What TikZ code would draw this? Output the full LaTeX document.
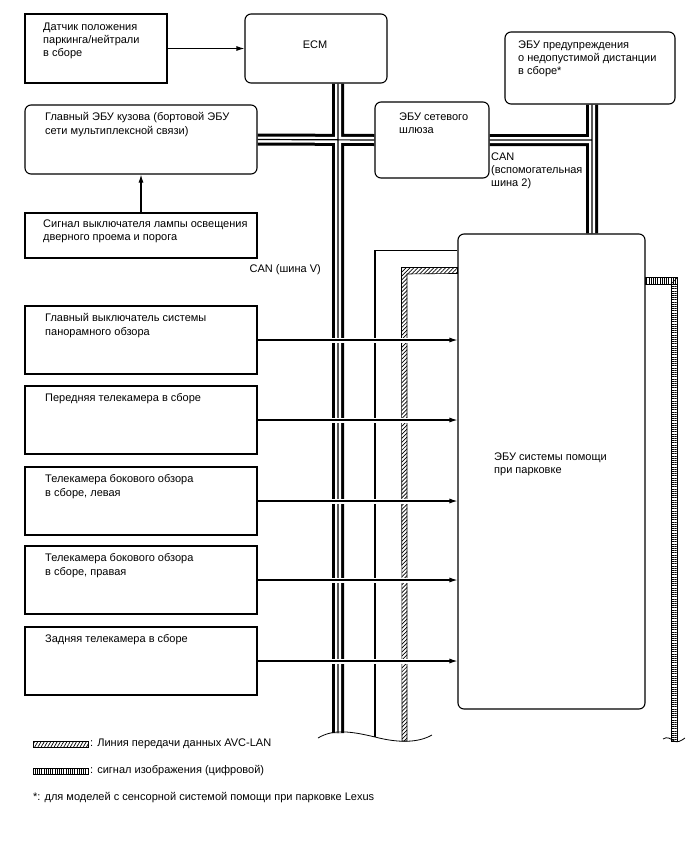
\documentclass[tikz,border=0pt]{standalone}
\usepackage{fontspec}
\setmainfont{Liberation Sans}
\usetikzlibrary{arrows.meta,patterns.meta,calc}
\pgfdeclarelayer{bg}
\pgfdeclarelayer{mid}
\pgfsetlayers{bg,mid,main}
\begin{document}
\begin{tikzpicture}[x=1pt,y=-1pt,
  sq/.style={draw,line width=1.1pt,fill=white,inner sep=0,rectangle},
  rd/.style={sq,rounded corners=6pt},
  fnt/.style={font=\fontsize{11}{13.3}\selectfont,inner sep=0},
  txt/.style={fnt,anchor=north west,align=left},
  arr/.style={line width=1.1pt,-{Latex[length=8pt,width=5pt]},
    preaction={draw=white,line width=5pt,-,shorten >=3pt}},
  bus/.style={line width=12pt,postaction={draw=white,line width=6pt},
    postaction={draw=black,line width=1.2pt}},
  thin/.style={line width=1.2pt},
  avc/.style={line width=0.6pt,pattern={Lines[angle=45,distance=2.8pt,line width=0.7pt]}},
  vidv/.style={line width=0.6pt,pattern={Lines[angle=90,distance=2.2pt,line width=0.7pt]}},
  vidh/.style={line width=0.6pt,pattern={Lines[angle=0,distance=2.2pt,line width=0.7pt]}}
]
\useasboundingbox (0,0) rectangle (688,852);

% boxes
\node[sq,minimum width=142pt,minimum height=69pt] (dat) at (96,48.5) {};
\node[rd,minimum width=142pt,minimum height=69pt] (ecm) at (316,48.5) {};
\node[rd,minimum width=232pt,minimum height=69pt] (gbody) at (141,139.5) {};
\node[sq,minimum width=232pt,minimum height=45pt] (sig) at (141,235.5) {};
\node[rd,minimum width=114pt,minimum height=76pt] (gw) at (432,140) {};
\node[rd,minimum width=170pt,minimum height=72pt] (warn) at (590,68) {};
\node[rd,minimum width=187pt,minimum height=475pt] (sys) at (551.5,471.5) {};
\node[sq,minimum width=232pt,minimum height=68pt] (c1) at (141,340) {};
\node[sq,minimum width=232pt,minimum height=68pt] (c2) at (141,420) {};
\node[sq,minimum width=232pt,minimum height=68pt] (c3) at (141,501) {};
\node[sq,minimum width=232pt,minimum height=68pt] (c4) at (141,580) {};
\node[sq,minimum width=232pt,minimum height=68pt] (c5) at (141,661) {};

% texts
\node[txt] (tdat) at (43,22.5) {Датчик положения\\паркинга/нейтрали\\в сборе};
\node[fnt] (tecm) at (315,45) {ECM};
\node[txt] (tgbody) at (45,112.5) {Главный ЭБУ кузова (бортовой ЭБУ\\сети мультиплексной связи)};
\node[txt] (tsig) at (43,219.5) {Сигнал выключателя лампы освещения\\дверного проема и порога};
\node[txt] (tgw) at (399,112.5) {ЭБУ сетевого\\шлюза};
\node[txt] (twarn) at (518,40.5) {ЭБУ предупреждения\\о недопустимой дистанции\\в сборе*};
\node[txt] (tcan2) at (491,152.5) {CAN\\(вспомогательная\\шина 2)};
\node[fnt,anchor=east] (tcanv) at (321,270) {CAN (шина V)};
\node[txt] (tc1) at (45,313.5) {Главный выключатель системы\\панорамного обзора};
\node[txt] (tc2) at (45,393.5) {Передняя телекамера в сборе};
\node[txt] (tc3) at (45,474.5) {Телекамера бокового обзора\\в сборе, левая};
\node[txt] (tc4) at (45,553.5) {Телекамера бокового обзора\\в сборе, правая};
\node[txt] (tc5) at (45,634.5) {Задняя телекамера в сборе};
\node[txt] (tsys) at (494,452.5) {ЭБУ системы помощи\\при парковке};

% helper coordinates
\coordinate (bx) at (338,0);
\coordinate (wx) at (592,0);
\coordinate (bend) at (0,733);
\coordinate (tx) at (375,0);

\begin{pgfonlayer}{bg}
  \fill[white] (0,0) rectangle (688,852);
  % CAN buses
  \draw[bus] (ecm.south -| bx) -- (bx |- bend)
             (gbody.east) -- (gw.west)
             (gw.east) -- (gw.east -| wx)
             (warn.south -| wx) -- (sys.north -| wx);
  % thin line
  \draw[thin] ($(sys.north west)+(0,17)$) coordinate (t1) -- (t1 -| tx) -- (tx |- 0,737);
  % AVC-LAN
  \draw[avc] ($(sys.north west)+(0,34)$) -- ++(-56,0) -- (402,741) -- (407,741)
             -- (407,274) -- ($(sys.north west)+(0,40)$) -- cycle;
  % video signal
  \draw[vidv] ($(sys.north east)+(0,44)$) rectangle (677,284);
  \draw[vidh] (671,284) rectangle (677,741);
  \draw[line width=0.5pt] (671,284) -- (677,278);
\end{pgfonlayer}

\begin{pgfonlayer}{mid}
  \draw[arr] (dat.east) -- (ecm.west);
  \draw[arr] (sig.north) -- (gbody.south);
  \draw[arr] (c1.east) -- (c1.east -| sys.west);
  \draw[arr] (c2.east) -- (c2.east -| sys.west);
  \draw[arr] (c3.east) -- (c3.east -| sys.west);
  \draw[arr] (c4.east) -- (c4.east -| sys.west);
  \draw[arr] (c5.east) -- (c5.east -| sys.west);
\end{pgfonlayer}

% break waves
\draw[line width=0.8pt] (318,738) .. controls (333,729) and (350,731) .. (375,737)
   .. controls (398,743) and (418,743) .. (432,735);
\draw[line width=0.8pt] (663,739) .. controls (667,736) and (671,739) .. (674,741)
   .. controls (677,743) and (681,741) .. (685,738);

% legend
\draw[line width=0.6pt,pattern={Lines[angle=60,distance=2.8pt,line width=0.7pt]}] (33,741) rectangle (88,747);
\node[fnt,anchor=west] (l1) at (90,744) {: Линия передачи данных AVC-LAN};
\draw[line width=0.6pt,pattern={Lines[angle=90,distance=2.2pt,line width=0.7pt]}] (33,768) rectangle (88,774);
\node[fnt,anchor=west] (l2) at (90,771) {: сигнал изображения (цифровой)};
\node[fnt,anchor=west] (l3) at (33,798) {*: для моделей с сенсорной системой помощи при парковке Lexus};
\end{tikzpicture}
\end{document}
